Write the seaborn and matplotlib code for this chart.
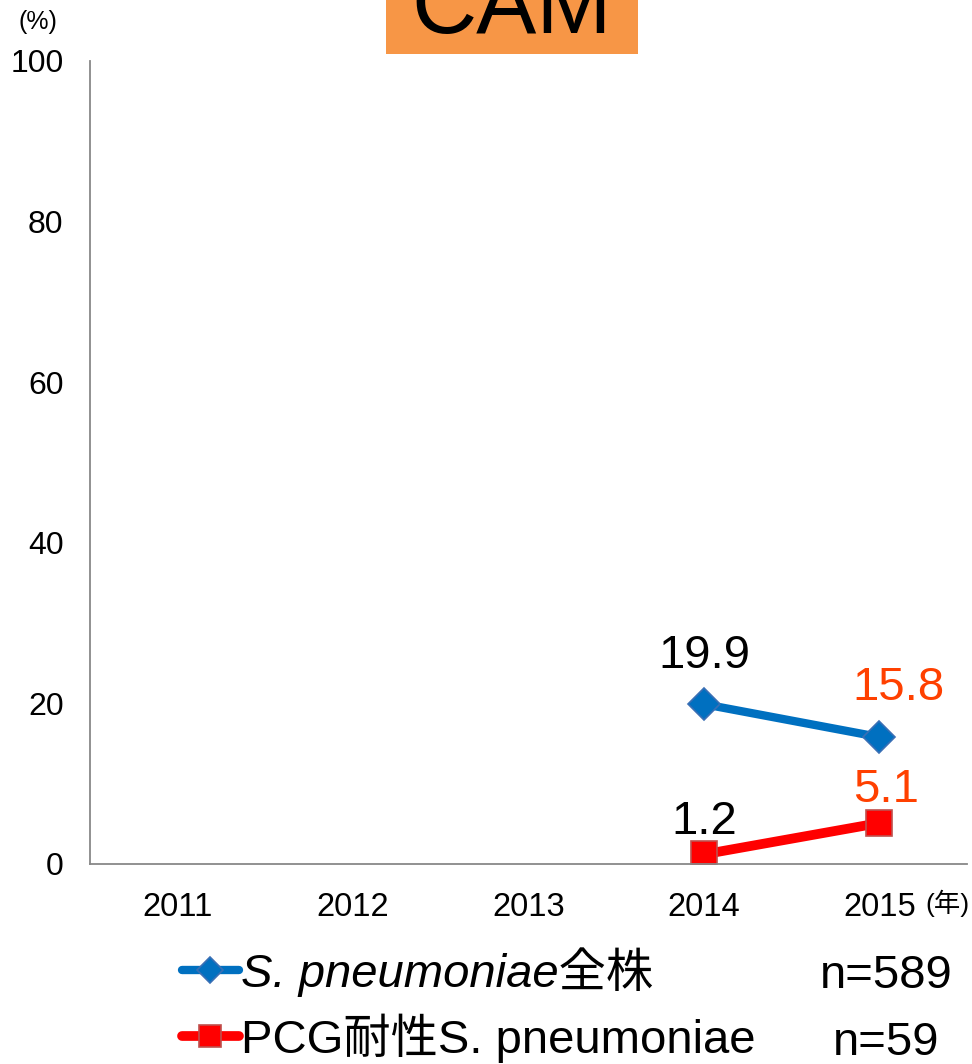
import numpy as np
import pandas as pd
import matplotlib.pyplot as plt
import matplotlib.patches as patches
import seaborn as sns

sns.set_style("white")
plt.rcParams['font.family'] = ['Liberation Sans', 'Noto Sans CJK JP']
plt.rcParams['axes.unicode_minus'] = False
plt.rcParams['text.color'] = 'black'
plt.rcParams['xtick.labelcolor'] = 'black'
plt.rcParams['ytick.labelcolor'] = 'black'

# data
years = [2011, 2012, 2013, 2014, 2015]
all_strains = [np.nan, np.nan, np.nan, 19.9, 15.8]
pcg_resistant = [np.nan, np.nan, np.nan, 1.2, 5.1]
series_names = ["S. pneumoniae全株", "PCG耐性S. pneumoniae"]
n_labels = ["n=589", "n=59"]
yticks = [0, 20, 40, 60, 80, 100]

df_all = pd.DataFrame({"year": years, "rate": all_strains})
df_pcg = pd.DataFrame({"year": years, "rate": pcg_resistant})

fig = plt.figure(figsize=(9.72, 10.64), dpi=100)
ax = fig.add_axes([0.0926, 0.188, 0.9024, 0.7547])

sns.lineplot(data=df_all, x="year", y="rate", ax=ax, color="#0070C0",
             linewidth=6, marker="D", markersize=16,
             markeredgecolor="#3A6FB5", markeredgewidth=1.2,
             label=series_names[0])
sns.lineplot(data=df_pcg, x="year", y="rate", ax=ax, color="#FF0000",
             linewidth=7, marker="s", markersize=19,
             markeredgecolor="#C0504D", markeredgewidth=1.2,
             label=series_names[1])

# value labels
lab_color = "#FF4000"
offsets_all = [(0, 48), (19, 49)]
offsets_pcg = [(0, 32), (7, 33)]
colors = ["black", lab_color]
for i, (yr, v) in enumerate(zip(years[3:], all_strains[3:])):
    ax.annotate(f"{v:.1f}", (yr, v), xytext=offsets_all[i], textcoords="offset pixels",
                ha="center", va="center", fontsize=34, color=colors[i])
for i, (yr, v) in enumerate(zip(years[3:], pcg_resistant[3:])):
    ax.annotate(f"{v:.1f}", (yr, v), xytext=offsets_pcg[i], textcoords="offset pixels",
                ha="center", va="center", fontsize=34, color=colors[i])

ax.set_xlim(years[0] - 0.5, years[-1] + 0.5)
ax.set_ylim(0, 100)
ax.set_yticks(yticks)
ax.set_yticklabels([str(t) for t in yticks], fontsize=23)
ax.set_xticks(years)
ax.set_xticklabels([str(y) for y in years], fontsize=23.5)
ax.set_xticks(np.arange(years[0] - 0.5, years[-1] + 1), minor=True)
ax.tick_params(axis="x", which="major", length=0, pad=20)
ax.tick_params(axis="x", which="minor", length=9, width=1.2, color="#888888", direction="out")
ax.tick_params(axis="y", length=8, width=1.2, color="#888888", direction="out", pad=11)
ax.set_xlabel("")
ax.set_ylabel("")
for s in ["top", "right"]:
    ax.spines[s].set_visible(False)
for s in ["left", "bottom"]:
    ax.spines[s].set_color("#888888")
    ax.spines[s].set_linewidth(1.3)

fig.text(969 / 972, 1 - 903 / 1064, "(年)", fontsize=19, ha="right", va="center")
fig.text(38 / 972, 1 - 22 / 1064, "(%)", fontsize=18, ha="center", va="center")

# title box
fig.patches.append(patches.Rectangle((386 / 972, 1 - 54 / 1064), 252 / 972, 0.08,
                                     transform=fig.transFigure, facecolor="#F79646",
                                     edgecolor="none", zorder=0))
fig.text(512 / 972, 1 - 33 / 1064, "CAM", fontsize=65, ha="center", va="baseline")

# legend below plot
handles, labels = ax.get_legend_handles_labels()
ax.get_legend().remove()
leg = fig.legend(handles, labels, loc="upper left", bbox_to_anchor=(163 / 972, 1 - 928 / 1064),
                 frameon=False, fontsize=34, handlelength=1.2, handletextpad=0.05,
                 labelspacing=0.35, borderaxespad=0, markerscale=0.8)
leg.get_texts()[0].set_style("italic")

fig.text(886 / 972, 1 - 976 / 1064, n_labels[0], fontsize=34, ha="center", va="center")
fig.text(886 / 972, 1 - 1043 / 1064, n_labels[1], fontsize=34, ha="center", va="center")

fig.savefig("out.png", dpi=100)
